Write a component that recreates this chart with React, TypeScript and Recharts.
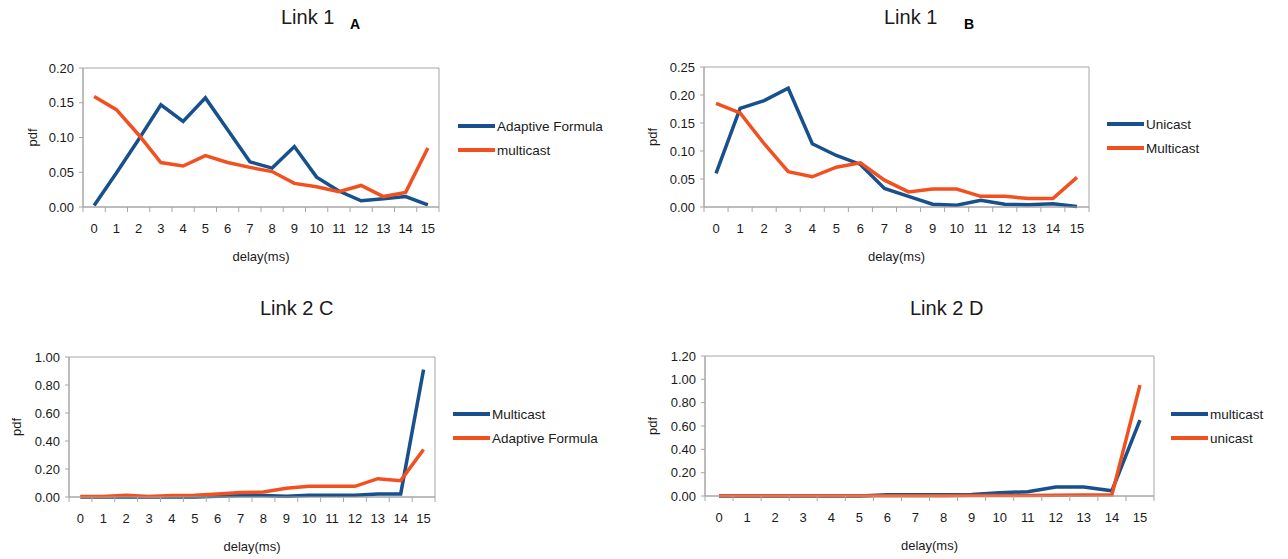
import React from 'react';
import {
  LineChart,
  Line,
  XAxis,
  YAxis,
  Legend,
  ReferenceArea,
} from 'recharts';

// categories (delay in ms)
const delays = [0, 1, 2, 3, 4, 5, 6, 7, 8, 9, 10, 11, 12, 13, 14, 15];

// Link 1 A
const aAdaptive = [0.002, 0.049, 0.097, 0.147, 0.123, 0.157, 0.111, 0.065, 0.056, 0.087, 0.043, 0.023, 0.009, 0.012, 0.015, 0.003];
const aMulticast = [0.159, 0.14, 0.104, 0.064, 0.059, 0.074, 0.064, 0.057, 0.051, 0.034, 0.029, 0.022, 0.031, 0.015, 0.021, 0.085];

// Link 1 B
const bUnicast = [0.06, 0.176, 0.19, 0.212, 0.113, 0.092, 0.076, 0.033, 0.019, 0.005, 0.003, 0.012, 0.005, 0.004, 0.006, 0.001];
const bMulticast = [0.185, 0.168, 0.113, 0.063, 0.054, 0.071, 0.079, 0.048, 0.027, 0.032, 0.032, 0.019, 0.019, 0.015, 0.015, 0.053];

// Link 2 C
const cMulticast = [0, 0, 0, 0, 0, 0, 0.005, 0.01, 0.01, 0.005, 0.012, 0.012, 0.012, 0.022, 0.022, 0.91];
const cAdaptive = [0.003, 0.004, 0.012, 0.004, 0.01, 0.012, 0.022, 0.032, 0.036, 0.062, 0.076, 0.076, 0.076, 0.131, 0.117, 0.339];

// Link 2 D
const dMulticast = [0, 0, 0, 0, 0, 0, 0.01, 0.01, 0.01, 0.012, 0.027, 0.037, 0.078, 0.078, 0.045, 0.65];
const dUnicast = [0.003, 0.003, 0.003, 0.003, 0.003, 0.003, 0.003, 0.003, 0.003, 0.004, 0.004, 0.005, 0.007, 0.008, 0.01, 0.95];

// y tick labels
const yTicksA = [0, 0.05, 0.1, 0.15, 0.2];
const yTicksB = [0, 0.05, 0.1, 0.15, 0.2, 0.25];
const yTicksC = [0, 0.2, 0.4, 0.6, 0.8, 1.0];
const yTicksD = [0, 0.2, 0.4, 0.6, 0.8, 1.0, 1.2];

const BLUE = '#17508c';
const ORANGE = '#f2511f';
const AXIS = '#a6a6a6';
const TEXT = '#1a1a1a';
const FONT = '"Liberation Sans", Arial, sans-serif';

// labels on the integers, small tick marks between categories
const xTicks = [...delays.flatMap((d) => [d - 0.5, d]), delays[delays.length - 1] + 0.5];

const XTick = (props: any) => {
  const { x, y, payload } = props;
  const v = payload.value;
  if (!Number.isInteger(v)) {
    return <line x1={x} x2={x} y1={y} y2={y + 5} stroke={AXIS} />;
  }
  return (
    <text x={x} y={y + 21} dy="0.35em" textAnchor="middle" fill={TEXT} fontSize={13} fontFamily={FONT}>
      {v}
    </text>
  );
};

const PdfLabel = ({ cx, cy }: { cx: number; cy: number }) => (
  <text
    x={cx}
    y={cy}
    transform={`rotate(-90 ${cx} ${cy})`}
    textAnchor="middle"
    dominantBaseline="central"
    fill={TEXT}
    fontSize={13}
    fontFamily={FONT}
  >
    pdf
  </text>
);

type Series = { name: string; values: number[]; color: string };

// keeps the series order (the default legend sorts by name)
const LegendBox = ({ items }: { items: Series[] }) => (
  <div style={{ fontFamily: FONT, fontSize: 13.5, color: TEXT }}>
    {items.map((s) => (
      <div key={s.name} style={{ display: 'flex', alignItems: 'center', height: 24 }}>
        <span style={{ display: 'inline-block', width: 37, height: 4, background: s.color }} />
        <span style={{ marginLeft: 2, whiteSpace: 'nowrap' }}>{s.name}</span>
      </div>
    ))}
  </div>
);

type PanelProps = {
  left: number;
  top: number;
  width: number;
  height: number;
  margin: { top: number; right: number; bottom: number; left: number };
  yTicks: number[];
  series: Series[];
  legendLeft: number;
  legendTop: number;
  pdfX: number;
};

function Panel({ left, top, width, height, margin, yTicks, series, legendLeft, legendTop, pdfX }: PanelProps) {
  const data = delays.map((d, i) => {
    const row: Record<string, number> = { delay: d };
    series.forEach((s) => {
      row[s.name] = s.values[i];
    });
    return row;
  });
  const yMax = yTicks[yTicks.length - 1];
  const plotH = height - margin.top - margin.bottom - 56;

  return (
    <div style={{ position: 'absolute', left, top }}>
      <LineChart width={width} height={height} data={data} margin={margin}>
        <XAxis
          dataKey="delay"
          type="number"
          domain={[-0.5, 15.5]}
          ticks={xTicks}
          interval={0}
          tickSize={0}
          tickMargin={0}
          tick={<XTick />}
          axisLine={{ stroke: AXIS }}
          height={56}
          label={{ value: 'delay(ms)', position: 'insideBottom', offset: 2, fill: TEXT, fontSize: 13, fontFamily: FONT }}
        />
        <YAxis
          type="number"
          domain={[0, yMax]}
          ticks={yTicks}
          interval={0}
          width={50}
          tickSize={4}
          tickMargin={5}
          tickLine={{ stroke: AXIS }}
          axisLine={{ stroke: AXIS }}
          tickFormatter={(v: number) => v.toFixed(2)}
          tick={{ fill: TEXT, fontSize: 13, fontFamily: FONT }}
          label={<PdfLabel cx={pdfX} cy={margin.top + plotH / 2} />}
        />
        <ReferenceArea x1={-0.5} x2={15.5} y1={0} y2={yMax} fill="none" stroke={AXIS} strokeWidth={1} />
        <Legend
          layout="vertical"
          align="center"
          verticalAlign="middle"
          content={() => <LegendBox items={series} />}
          wrapperStyle={{ left: legendLeft, top: legendTop, width: 'auto' }}
        />
        {series.map((s) => (
          <Line
            key={s.name}
            dataKey={s.name}
            name={s.name}
            type="linear"
            stroke={s.color}
            strokeWidth={3.5}
            dot={false}
            activeDot={false}
            isAnimationActive={false}
          />
        ))}
      </LineChart>
    </div>
  );
}

const titleStyle: React.CSSProperties = {
  position: 'absolute',
  fontFamily: FONT,
  fontSize: 20,
  lineHeight: '20px',
  color: TEXT,
  whiteSpace: 'nowrap',
};

const letterStyle: React.CSSProperties = {
  position: 'absolute',
  fontFamily: FONT,
  fontSize: 14,
  fontWeight: 700,
  lineHeight: '14px',
  color: '#000',
};

export default function App() {
  return (
    <div style={{ position: 'absolute', left: 0, top: 0, width: 1288, height: 559, background: '#fff', overflow: 'hidden' }}>
      <div style={{ ...titleStyle, left: 281, top: 7 }}>Link 1</div>
      <div style={{ ...letterStyle, left: 350, top: 17 }}>A</div>
      <div style={{ ...titleStyle, left: 884, top: 7 }}>Link 1</div>
      <div style={{ ...letterStyle, left: 964, top: 17 }}>B</div>
      <div style={{ ...titleStyle, left: 260, top: 298 }}>Link 2 C</div>
      <div style={{ ...titleStyle, left: 910, top: 298 }}>Link 2 D</div>

      <Panel
        left={0}
        top={0}
        width={640}
        height={270}
        margin={{ top: 68, right: 201, bottom: 7, left: 33 }}
        yTicks={yTicksA}
        series={[
          { name: 'Adaptive Formula', values: aAdaptive, color: BLUE },
          { name: 'multicast', values: aMulticast, color: ORANGE },
        ]}
        legendLeft={458}
        legendTop={114}
        pdfX={32}
      />
      <Panel
        left={640}
        top={0}
        width={648}
        height={270}
        margin={{ top: 67, right: 199, bottom: 7, left: 14 }}
        yTicks={yTicksB}
        series={[
          { name: 'Unicast', values: bUnicast, color: BLUE },
          { name: 'Multicast', values: bMulticast, color: ORANGE },
        ]}
        legendLeft={467}
        legendTop={112}
        pdfX={12}
      />
      <Panel
        left={0}
        top={290}
        width={640}
        height={269}
        margin={{ top: 67, right: 205, bottom: 6, left: 19 }}
        yTicks={yTicksC}
        series={[
          { name: 'Multicast', values: cMulticast, color: BLUE },
          { name: 'Adaptive Formula', values: cAdaptive, color: ORANGE },
        ]}
        legendLeft={453}
        legendTop={112}
        pdfX={16}
      />
      <Panel
        left={640}
        top={290}
        width={648}
        height={269}
        margin={{ top: 66, right: 134, bottom: 7, left: 15 }}
        yTicks={yTicksD}
        series={[
          { name: 'multicast', values: dMulticast, color: BLUE },
          { name: 'unicast', values: dUnicast, color: ORANGE },
        ]}
        legendLeft={531}
        legendTop={112}
        pdfX={12}
      />
    </div>
  );
}
